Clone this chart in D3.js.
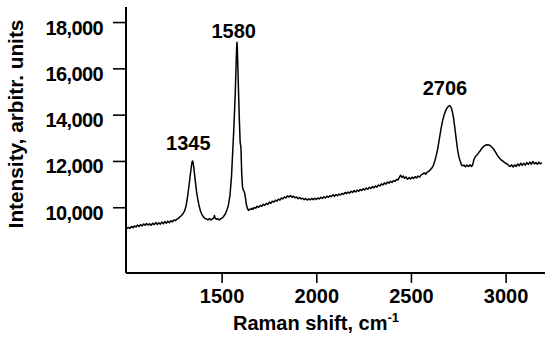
<!DOCTYPE html>
<html>
<head>
<meta charset="utf-8">
<script src="https://cdn.jsdelivr.net/npm/d3@7"></script>
<style>
  html, body { margin: 0; padding: 0; background: #fff; }
  svg text { font-family: "Liberation Sans", Arial, Helvetica, sans-serif; font-weight: bold; fill: #000; }
</style>
</head>
<body>
<svg id="chart" width="550" height="338"></svg>
<script>
// Raman shift (cm-1)
const shift = [
1000,1008,1016,1024,1032,1040,1048,1056,1064,1072,1080,1088,1096,1104,1112,1120,1128,1136,1144,1152,1160,1168,1176,1184,1192,1200,
1208,1216,1224,1232,1240,1248,1256,1264,1272,1280,1288,1296,1304,1312,1320,1328,1334,1340,1344,1347,1350,1354,1358,1363,1368,1374,
1380,1388,1396,1404,1412,1420,1428,1436,1444,1452,1458,1462,1466,1472,1480,1488,1496,1504,1512,1520,1528,1536,1544,1552,1558,1564,
1568,1572,1576,1579,1581,1583,1586,1590,1594,1598,1602,1606,1610,1614,1618,1622,1626,1630,1636,1642,1648,1654,1660,1666,1672,1680,
1688,1696,1704,1712,1720,1728,1736,1744,1752,1760,1768,1776,1784,1792,1800,1808,1816,1824,1832,1840,1848,1856,1864,1872,1880,1888,
1896,1904,1912,1920,1928,1936,1944,1952,1960,1968,1976,1984,1992,2000,2008,2016,2024,2032,2040,2048,2056,2064,2072,2080,2088,2096,
2104,2112,2120,2128,2136,2144,2152,2160,2168,2176,2184,2192,2200,2208,2216,2224,2232,2240,2248,2256,2264,2272,2280,2288,2296,2304,
2312,2320,2328,2336,2344,2352,2360,2368,2376,2384,2392,2400,2408,2416,2424,2432,2440,2446,2452,2460,2466,2474,2482,2490,2498,2506,
2514,2522,2530,2538,2546,2554,2562,2570,2578,2586,2594,2602,2610,2618,2626,2634,2642,2650,2658,2666,2674,2682,2690,2698,2705,2712,
2718,2724,2730,2736,2742,2748,2754,2760,2766,2772,2780,2788,2796,2804,2812,2820,2826,2832,2840,2848,2856,2864,2872,2880,2888,2896,
2904,2912,2920,2928,2936,2944,2952,2960,2968,2976,2984,2992,3000,3008,3016,3024,3032,3040,3048,3056,3064,3072,3080,3088,3096,3104,
3112,3120,3128,3136,3144,3152,3160,3168,3176,3184,3192
];
// Intensity (arbitrary units)
const intensity = [
9080,9130,9090,9170,9120,9190,9150,9230,9170,9250,9190,9280,9220,9300,9230,9290,9220,9310,9250,9340,9260,9330,9270,9360,9290,9380,
9310,9400,9330,9420,9370,9450,9420,9490,9520,9590,9640,9720,9830,10050,10450,10950,11350,11750,11960,12000,11900,11650,11350,11000,10650,10350,
10100,9850,9680,9590,9510,9500,9450,9510,9450,9500,9530,9640,9530,9480,9500,9450,9510,9540,9620,9720,9880,10100,10500,11300,12300,13300,
14100,14900,16000,16800,17130,16900,16000,14800,13700,12800,12600,11500,10900,10750,10700,10600,10400,10150,9950,9860,9920,9900,9960,9910,9990,9960,
10040,10000,10080,10040,10130,10080,10170,10120,10220,10170,10260,10220,10310,10260,10350,10310,10400,10360,10450,10400,10490,10440,10510,10430,10480,10410,
10440,10370,10420,10360,10390,10330,10380,10310,10360,10320,10380,10330,10390,10340,10400,10360,10430,10380,10450,10400,10480,10430,10500,10460,10540,10480,
10550,10500,10570,10530,10600,10560,10640,10590,10660,10610,10690,10640,10720,10660,10740,10690,10770,10720,10800,10750,10830,10780,10860,10810,10890,10840,
10920,10870,10960,10920,11010,10960,11050,11000,11090,11040,11120,11070,11150,11120,11200,11180,11320,11380,11290,11350,11250,11310,11210,11280,11220,11300,
11240,11320,11270,11350,11300,11400,11430,11490,11430,11520,11550,11620,11690,11800,12000,12250,12550,12950,13350,13700,13950,14150,14280,14360,14390,14320,
14150,13900,13550,13150,12750,12400,12150,12000,11850,11790,11820,11750,11820,11760,11830,11760,11830,12050,12180,12250,12340,12420,12520,12600,12650,12690,
12700,12690,12650,12590,12520,12420,12310,12200,12120,12050,12000,11950,11900,11870,11800,11760,11830,11740,11830,11760,11870,11790,11900,11810,11900,11820,
11930,11850,11950,11860,11980,11870,11930,11860,11940,11880,11920
];
const xTicks = [1500, 2000, 2500, 3000];
const yTicks = [10000, 12000, 14000, 16000, 18000];
const peakShifts = [1345, 1580, 2706];
const peakLabels = ["1345", "1580", "2706"];
const xTitle = "Raman shift, cm";
const xTitleSup = "-1";
const yTitle = "Intensity, arbitr. units";

const svg = d3.select("#chart");
const x = d3.scaleLinear().domain([995, 3208]).range([126, 545]);
const y = d3.scaleLinear().domain([7160, 18650]).range([273, 7]);

// curve
const pts = shift.map((s, i) => [s, intensity[i]]);
svg.append("path")
  .datum(pts)
  .attr("fill", "none")
  .attr("stroke", "#000")
  .attr("stroke-width", 1.5)
  .attr("stroke-linejoin", "round")
  .attr("d", d3.line().x(d => x(d[0])).y(d => y(d[1])));

// axes
const yAxis = svg.append("g").attr("transform", "translate(126,0)")
  .call(d3.axisLeft(y).tickValues(yTicks).tickSize(13).tickSizeOuter(0).tickFormat(d3.format(",")).tickPadding(10));
const xAxis = svg.append("g").attr("transform", "translate(0,273)")
  .call(d3.axisBottom(x).tickValues(xTicks).tickSize(10).tickSizeOuter(0).tickFormat(d3.format("d")).tickPadding(8));

[yAxis, xAxis].forEach(g => {
  g.select(".domain").attr("stroke", "#000").attr("stroke-width", 2);
  g.selectAll(".tick line").attr("stroke", "#000").attr("stroke-width", 1.6);
  g.selectAll(".tick text")
    .attr("font-family", "Liberation Sans, Arial, sans-serif")
    .attr("font-weight", "bold")
    .attr("font-size", 20)
    .attr("fill", "#000");
});
yAxis.select(".domain").attr("d", "M0,7V273");
xAxis.select(".domain").attr("d", "M126,0H545");
yAxis.selectAll(".tick text").attr("x", -23).attr("dy", "0.6em").attr("letter-spacing", -0.6);
xAxis.selectAll(".tick text").attr("dy", "0.71em").attr("y", 16);

// peak labels
const labelDx = [-4, -3, -5];
const labelDy = [-11, -4, -11];
svg.append("g").selectAll("text")
  .data(peakShifts)
  .join("text")
  .attr("x", (d, i) => x(d) + labelDx[i])
  .attr("y", (d, i) => {
    const idx = d3.minIndex(shift, s => Math.abs(s - d));
    const top = d3.max(intensity.slice(Math.max(0, idx - 3), idx + 4));
    return y(top) + labelDy[i];
  })
  .attr("text-anchor", "middle")
  .attr("font-size", 20)
  .text((d, i) => peakLabels[i]);

// axis titles
const xt = svg.append("text")
  .attr("x", 316)
  .attr("y", 330)
  .attr("text-anchor", "middle")
  .attr("font-size", 20);
xt.append("tspan").text(xTitle);
xt.append("tspan").attr("font-size", 13).attr("dy", -8).text(xTitleSup);

svg.append("text")
  .attr("transform", "translate(23,124) rotate(-90)")
  .attr("text-anchor", "middle")
  .attr("font-size", 20.8)
  .text(yTitle);
</script>
</body>
</html>
